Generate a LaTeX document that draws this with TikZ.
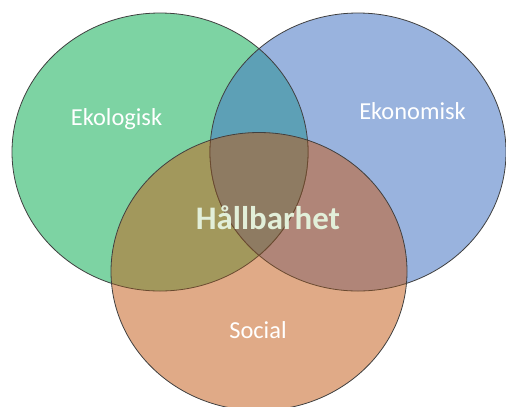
\documentclass[tikz,border=0pt]{standalone}
\usepackage{fontspec}
\setmainfont{Carlito}
\usetikzlibrary{positioning}
\definecolor{ekogreen}{HTML}{7DD3A3}
\definecolor{ekoblue}{HTML}{99B3DE}
\definecolor{socorange}{HTML}{E0AA87}
\definecolor{greenblue}{HTML}{5DA0B6}
\definecolor{greenorange}{HTML}{A2985C}
\definecolor{blueorange}{HTML}{B08578}
\definecolor{allthree}{HTML}{8E7B62}
\definecolor{rimdark}{HTML}{404040}
\definecolor{rimbrown}{HTML}{6A4A30}
\definecolor{hallcol}{HTML}{E2EFD9}

\begin{document}
\begin{tikzpicture}[x=1bp,y=-1bp,
  venn/.style={x radius=148,y radius=139},
  rim/.style={draw=rimdark,line width=0.8bp},
  setlabel/.style={text=white,font=\fontsize{24.5}{29}\selectfont,inner sep=0pt,anchor=base},
  mainlabel/.style={text=hallcol,font=\fontsize{33}{40}\selectfont\bfseries,inner sep=0pt,anchor=base}]
\useasboundingbox (0,0) rectangle (506,406);
\coordinate (eko) at (160,152);
\coordinate (ekon) at (358,152);
\coordinate (soc) at (259,271.5);

% ekologisk och ekonomisk
\fill[ekogreen] (eko) ellipse [venn];
\fill[ekoblue] (ekon) ellipse [venn];
\begin{scope}
  \clip (eko) ellipse [venn];
  \fill[greenblue] (ekon) ellipse [venn];
\end{scope}
\draw[rim] (eko) ellipse [venn];
\draw[rim] (ekon) ellipse [venn];

% social
\fill[socorange] (soc) ellipse [venn];
\begin{scope}
  \clip (soc) ellipse [venn];
  \fill[greenorange] (eko) ellipse [venn];
  \fill[blueorange] (ekon) ellipse [venn];
  \draw[rim,draw=rimbrown] (eko) ellipse [venn];
  \draw[rim,draw=rimbrown] (ekon) ellipse [venn];
  \clip (eko) ellipse [venn];
  \fill[allthree] (ekon) ellipse [venn];
  \draw[rim,draw=rimbrown] (ekon) ellipse [venn];
\end{scope}
\begin{scope}
  \clip (soc) ellipse [venn];
  \clip (ekon) ellipse [venn];
  \draw[rim,draw=rimbrown] (eko) ellipse [venn];
\end{scope}
\draw[rim] (soc) ellipse [venn];

\node[setlabel] (ekologisk) at (116.5,125) {Ekologisk};
\node[setlabel] (ekonomisk) at (412.5,119) {Ekonomisk};
\node[setlabel] (social) at (258,338) {Social};
\node[mainlabel] (hallbarhet) at (268,229) {Hållbarhet};
\end{tikzpicture}
\end{document}
